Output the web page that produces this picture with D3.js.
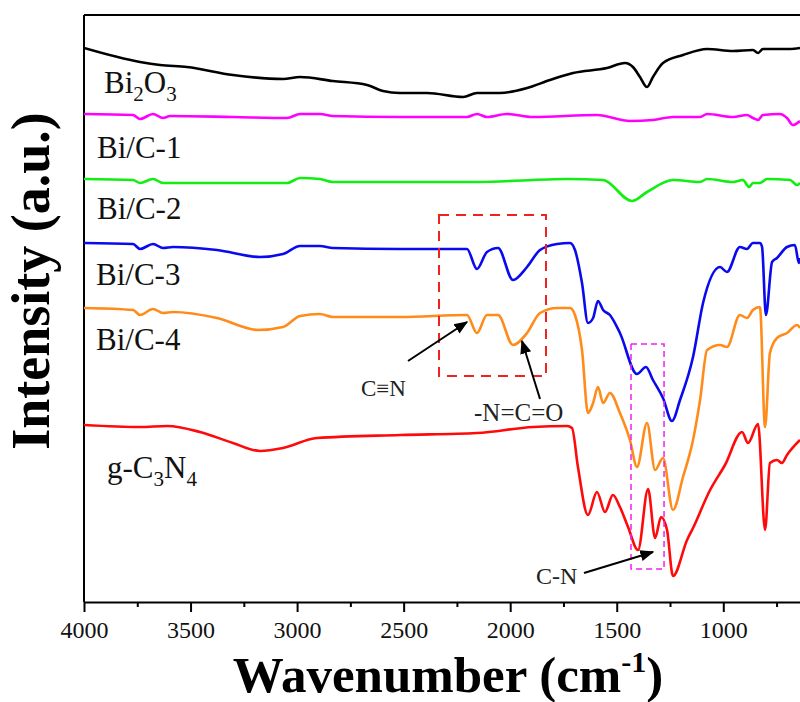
<!DOCTYPE html>
<html>
<head>
<meta charset="utf-8">
<script src="https://cdn.jsdelivr.net/npm/d3@7"></script>
<style>
  body { margin: 0; background: #fff; }
  svg { display: block; }
</style>
</head>
<body>
<div id="chart"></div>
<script>
// FTIR spectra: [wavenumber (cm-1), intensity (a.u.)]
var bi2o3 = [[4000,554],[3737,540],[3643,537],[3517,535],[3301,527],[3066,523],[2986,525],[2832,521],[2672,517],[2597,511],[2517,509],[2390,509],[2221,505],[2156,509],[2048,509],[1921,514],[1813,522],[1705,529],[1546,534],[1461,539],[1424,535],[1391,525],[1358,515],[1330,525],[1283,539],[1189,547],[1076,553],[954,551],[861,552],[837,549],[814,553],[687,553],[640,554]];
var bic1 = [[4000,488],[3770,487],[3737,483],[3676,488],[3629,484],[3596,486],[3301,485],[3047,484],[2986,488],[2893,488],[2832,486],[2517,485],[2203,485],[2156,488],[2109,485],[2015,488],[1893,485],[1593,487],[1438,481],[1330,482],[1236,485],[1109,485],[1076,488],[954,485],[889,487],[861,484],[837,482],[814,487],[734,488],[701,484],[673,477],[640,481]];
var bic2 = [[4000,423],[3770,422],[3737,419],[3676,423],[3629,419],[3047,419],[2986,424],[2893,423],[2832,420],[2517,420],[2156,420],[1733,423],[1564,422],[1428,401],[1358,410],[1236,422],[1109,420],[1076,423],[954,420],[908,422],[879,415],[861,419],[828,419],[795,423],[687,422],[654,417],[640,419]];
var bic3 = [[4000,359],[3770,358],[3737,353],[3676,358],[3629,354],[3582,355],[3376,352],[3174,345],[3066,348],[2986,356],[2893,356],[2832,354],[2517,353],[2203,353],[2156,333],[2109,350],[2057,354],[1987,322],[1921,335],[1860,352],[1780,358],[1719,359],[1696,352],[1663,319],[1635,279],[1611,284],[1588,301],[1564,292],[1532,287],[1485,269],[1405,228],[1363,235],[1330,222],[1283,204],[1241,181],[1203,202],[1142,245],[1095,299],[1015,335],[983,330],[922,355],[889,353],[861,359],[828,359],[818,355],[800,287],[771,340],[748,344],[701,355],[664,357],[645,339],[640,344]];
var bic4 = [[4000,294],[3770,292],[3737,287],[3676,293],[3629,289],[3582,290],[3376,284],[3183,272],[3066,275],[2986,286],[2893,288],[2832,285],[2517,285],[2203,287],[2156,269],[2109,287],[2057,287],[1987,257],[1921,269],[1860,289],[1780,294],[1719,294],[1696,287],[1663,252],[1635,189],[1611,199],[1588,215],[1564,199],[1532,209],[1485,189],[1438,162],[1405,135],[1358,179],[1320,132],[1283,144],[1236,92],[1189,125],[1142,162],[1109,202],[1076,252],[1015,257],[983,255],[922,287],[889,284],[861,292],[828,295],[804,175],[781,249],[748,264],[701,269],[654,277],[640,274]];
var gc3n4 = [[4000,177],[3737,175],[3610,176],[3456,170],[3301,159],[3174,151],[3066,154],[2907,164],[2517,167],[2156,169],[1893,175],[1733,176],[1710,174],[1682,135],[1635,87],[1593,110],[1555,90],[1518,107],[1485,95],[1447,75],[1400,52],[1353,113],[1320,64],[1292,85],[1264,72],[1236,26],[1170,62],[1142,74],[1062,112],[992,137],[912,170],[884,159],[837,178],[804,72],[781,139],[748,142],[725,139],[701,147],[640,162]];

var seriesData = [bi2o3, bic1, bic2, bic3, bic4, gc3n4];
var seriesColors = ["#000000", "#ff00ff", "#11ee11", "#0a0aee", "#ff8c1a", "#ff0a0a"];

var majorTicks = [4000, 3500, 3000, 2500, 2000, 1500, 1000];
var minorTicks = [3750, 3250, 2750, 2250, 1750, 1250, 750];

var serif = "'Liberation Serif', 'Times New Roman', serif";
var svgWidth = 800;
var svgHeight = 702;
var margin = { top: 15, right: 0, bottom: 100, left: 84 };

var svg = d3.select("#chart")
  .append("svg")
  .attr("width", svgWidth)
  .attr("height", svgHeight)
  .attr("font-family", serif);

// scales (x reversed, spectrum runs off the right edge)
var yBottom = svgHeight - margin.bottom;
var x = d3.scaleLinear().domain([4000, 640]).range([margin.left, svgWidth]);
var y = d3.scaleLinear().domain([0, 587]).range([yBottom, margin.top]);

svg.append("clipPath").attr("id", "clip")
  .append("rect")
  .attr("x", margin.left).attr("y", margin.top)
  .attr("width", svgWidth - margin.left).attr("height", yBottom - margin.top);

// frame top + left
svg.append("line")
  .attr("x1", margin.left).attr("x2", svgWidth)
  .attr("y1", margin.top).attr("y2", margin.top)
  .attr("stroke", "#000").attr("stroke-width", 2);
svg.append("line")
  .attr("x1", margin.left).attr("x2", margin.left)
  .attr("y1", margin.top).attr("y2", yBottom)
  .attr("stroke", "#000").attr("stroke-width", 2);

// axes
var xAxis = svg.append("g")
  .attr("transform", `translate(0, ${yBottom})`)
  .call(d3.axisBottom(x).tickValues(majorTicks).tickFormat(d3.format("d"))
    .tickSize(10).tickSizeOuter(0).tickPadding(9));
xAxis.attr("font-family", serif).attr("font-size", 24);
xAxis.select(".domain").attr("stroke-width", 2);
xAxis.selectAll(".tick line").attr("stroke-width", 2);
xAxis.selectAll(".tick text").attr("fill", "#111");

var minorAxis = svg.append("g")
  .attr("transform", `translate(0, ${yBottom})`)
  .call(d3.axisBottom(x).tickValues(minorTicks).tickSize(5).tickFormat(""));
minorAxis.select(".domain").remove();
minorAxis.selectAll(".tick line").attr("stroke-width", 2);

// spectra
var line = d3.line().x(d => x(d[0])).y(d => y(d[1])).curve(d3.curveMonotoneX);
var plot = svg.append("g").attr("clip-path", "url(#clip)");
plot.selectAll("path.spec")
  .data(seriesData)
  .enter()
  .append("path")
  .attr("class", "spec")
  .attr("d", d => line(d.slice().reverse()))
  .attr("fill", "none")
  .attr("stroke", (d, i) => seriesColors[i])
  .attr("stroke-width", 2.6)
  .attr("stroke-linejoin", "round");

// sample labels
function label(xp, yp, parts) {
  var t = svg.append("text").attr("x", xp).attr("y", yp)
    .attr("font-size", 31).attr("fill", "#111");
  parts.forEach(function(p) {
    if (p.sub) {
      t.append("tspan").attr("dy", 8).attr("font-size", 21).text(p.sub);
    } else {
      t.append("tspan").attr("dy", p.back ? -8 : 0).text(p.t);
    }
  });
}
label(104, 93, [{t: "Bi"}, {sub: "2"}, {t: "O", back: true}, {sub: "3"}]);
label(97, 158, [{t: "Bi/C-1"}]);
label(97, 219, [{t: "Bi/C-2"}]);
label(96, 285, [{t: "Bi/C-3"}]);
label(96, 350, [{t: "Bi/C-4"}]);
label(107, 478, [{t: "g-C"}, {sub: "3"}, {t: "N", back: true}, {sub: "4"}]);

// highlight boxes
svg.append("rect")
  .attr("x", x(2334)).attr("y", 215)
  .attr("width", x(1832) - x(2334)).attr("height", 161)
  .attr("fill", "none").attr("stroke", "#ee2222")
  .attr("stroke-width", 2).attr("stroke-dasharray", "10,7");
svg.append("rect")
  .attr("x", x(1433)).attr("y", 344)
  .attr("width", x(1278) - x(1433)).attr("height", 225)
  .attr("fill", "none").attr("stroke", "#ee22ee")
  .attr("stroke-width", 1.5).attr("stroke-dasharray", "6,4");

// arrows
svg.append("defs").append("marker")
  .attr("id", "arrow")
  .attr("viewBox", "0 0 10 10")
  .attr("refX", 9).attr("refY", 5)
  .attr("markerWidth", 7).attr("markerHeight", 7)
  .attr("markerUnits", "strokeWidth")
  .attr("orient", "auto")
  .append("path").attr("d", "M0,1 L10,5 L0,9 Z").attr("fill", "#000");

var arrows = [[408, 361, 467, 322], [540, 399, 522, 341], [584, 573, 653, 552]];
svg.selectAll("line.arrow")
  .data(arrows)
  .enter()
  .append("line")
  .attr("class", "arrow")
  .attr("x1", d => d[0]).attr("y1", d => d[1])
  .attr("x2", d => d[2]).attr("y2", d => d[3])
  .attr("stroke", "#000").attr("stroke-width", 2)
  .attr("marker-end", "url(#arrow)");

svg.append("text").attr("x", 361).attr("y", 396).attr("font-size", 23).attr("fill", "#222").text("C\u2261N");
svg.append("text").attr("x", 474).attr("y", 421).attr("font-size", 25).attr("fill", "#222").text("-N=C=O");
svg.append("text").attr("x", 536).attr("y", 584).attr("font-size", 24).attr("fill", "#222").text("C-N");

// axis titles
var xt = svg.append("text")
  .attr("x", 448).attr("y", 692)
  .attr("text-anchor", "middle")
  .attr("font-size", 51).attr("font-weight", "bold");
xt.append("tspan").text("Wavenumber (cm");
xt.append("tspan").attr("dy", -20).attr("font-size", 30).text("-1");
xt.append("tspan").attr("dy", 20).text(")");

svg.append("text")
  .attr("transform", "translate(49, 281) rotate(-90)")
  .attr("text-anchor", "middle")
  .attr("font-size", 54).attr("font-weight", "bold")
  .text("Intensity (a.u.)");
</script>
</body>
</html>
